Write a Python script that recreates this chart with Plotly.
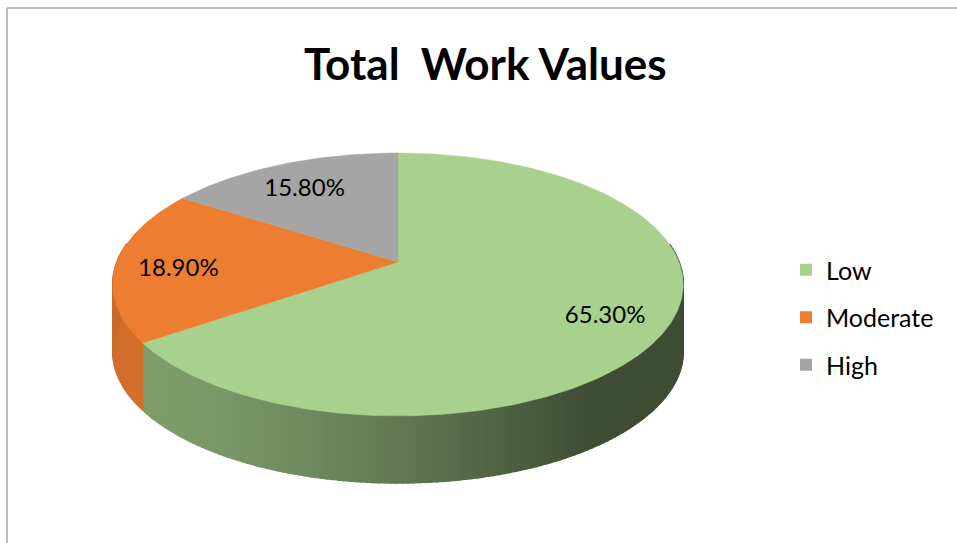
import math
import plotly.graph_objects as go

# ---- data ----
categories = ["Low", "Moderate", "High"]
values = [65.3, 18.9, 15.8]
labels = ["65.30%", "18.90%", "15.80%"]
colors = ["#A9D18E", "#ED7D31", "#A5A5A5"]
side_strength = [1.0, 0.45, 1.0]
title = "Total\u00a0 Work Values"

# ---- geometry (pixel-space axes) ----
W, H = 957, 543
CX, CY = 398.0, 262.0      # projected pie centre (vertex)
A, B = 281.0, 127.6        # horizontal / vertical projection radii
K = 0.171                  # perspective factor
DEPTH = 67.0               # thickness of the pie
FONT = "Lato, Carlito, Calibri, sans-serif"


def proj(theta_deg, r=1.0):
    t = math.radians(theta_deg)
    u, v = r * math.sin(t), r * math.cos(t)
    d = 1 + K * v
    return CX + A * u / d, CY - B * v / d


def shade(hexcol, f):
    h = hexcol.lstrip("#")
    rgb = [int(h[i:i + 2], 16) for i in (0, 2, 4)]
    rgb = [max(0, min(255, int(round(c * f)))) for c in rgb]
    return "rgb(%d,%d,%d)" % tuple(rgb)


total = sum(values)
bounds = []
acc = 0.0
for v in values:
    a = acc / total * 360.0
    acc += v
    b = acc / total * 360.0
    bounds.append((a, b))

fig = go.Figure()

# side strips
for (a, b), col, s in zip(bounds, colors, side_strength):
    n = max(2, int(math.ceil((b - a) / 1.0)))
    for i in range(n):
        t1 = a + (b - a) * i / n
        t2 = a + (b - a) * (i + 1) / n
        tm = 0.5 * (t1 + t2)
        u, v = math.sin(math.radians(tm)), math.cos(math.radians(tm))
        if v > 0.15:
            continue
        d = -0.8 * u - 0.6 * v
        f = 0.37 + 0.38 * max(d, 0.0) ** 1.2
        f = 1 - (1 - f) * s
        x1, y1 = proj(t1)
        x2, y2 = proj(t2)
        c = shade(col, f)
        fig.add_trace(go.Scatter(
            x=[x1, x2, x2, x1, x1], y=[y1, y2, y2 + DEPTH, y1 + DEPTH, y1],
            mode="lines", fill="toself", fillcolor=c,
            line=dict(color=c, width=1.6),
            hoverinfo="skip", showlegend=False))

# top faces
for (a, b), col, name in zip(bounds, colors, categories):
    n = max(2, int(math.ceil(b - a)))
    xs, ys = [CX], [CY]
    for i in range(n + 1):
        x, y = proj(a + (b - a) * i / n)
        xs.append(x)
        ys.append(y)
    xs.append(CX)
    ys.append(CY)
    fig.add_trace(go.Scatter(
        x=xs, y=ys, mode="lines", fill="toself", fillcolor=col,
        line=dict(color=col, width=0.5),
        hoverinfo="skip", showlegend=False, name=name))

# data labels
lx, ly = [], []
for (a, b) in bounds:
    x, y = proj(0.5 * (a + b), 0.78)
    lx.append(x)
    ly.append(y + 6)
fig.add_trace(go.Scatter(
    x=lx, y=ly, mode="text", text=labels,
    textfont=dict(family=FONT, size=24, color="#000000"),
    hoverinfo="skip", showlegend=False))

# legend entries
for i, (name, col) in enumerate(zip(categories, colors)):
    fig.add_trace(go.Scatter(
        x=[None], y=[None], mode="markers", name=name,
        marker=dict(symbol="square", size=13, color=col),
        legendgroup="g%d" % i, showlegend=True))

fig.update_layout(
    width=W, height=H,
    margin=dict(l=0, r=0, t=0, b=0),
    paper_bgcolor="white", plot_bgcolor="white",
    xaxis=dict(range=[0, W], visible=False, fixedrange=True),
    yaxis=dict(range=[H, 0], visible=False, fixedrange=True),
    showlegend=True,
    legend=dict(
        x=786 / W, y=1 - 247 / H, xanchor="left", yanchor="top",
        font=dict(family=FONT, size=25, color="#000000"),
        traceorder="grouped", tracegroupgap=12,
        itemsizing="constant", bgcolor="rgba(0,0,0,0)"),
    shapes=[
        dict(type="line", xref="x", yref="y", x0=7, y0=8, x1=W, y1=8,
             line=dict(color="#A6A6A6", width=1.5)),
        dict(type="line", xref="x", yref="y", x0=7, y0=8, x1=7, y1=H,
             line=dict(color="#A6A6A6", width=1.5)),
    ],
    annotations=[
        dict(text="<b>%s</b>" % title, x=485, y=63, xref="x", yref="y",
             showarrow=False, xanchor="center", yanchor="middle",
             font=dict(family=FONT, size=44, color="#000000")),
    ],
)

fig.write_html("out.html")
